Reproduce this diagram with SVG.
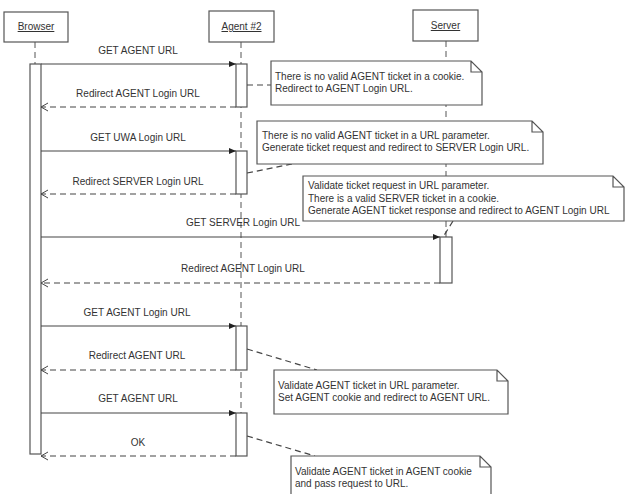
<svg xmlns="http://www.w3.org/2000/svg" width="631" height="494" viewBox="0 0 631 494">
<defs>
<style>
text{font-family:"Liberation Sans",Arial,sans-serif;font-size:10px;fill:#333}
.hd{text-decoration:underline;text-anchor:middle}
.lbl{text-anchor:middle}
.box{fill:#fff;stroke:#555;stroke-width:1.2}
.life{stroke:#555;stroke-width:1;stroke-dasharray:6,4;fill:none}
.msg{stroke:#444;stroke-width:1.2;fill:none}
.ret{stroke:#444;stroke-width:1.2;stroke-dasharray:6,4;fill:none}
.link{stroke:#444;stroke-width:1.2;stroke-dasharray:6,4;fill:none}
.note{fill:#fff;stroke:#555;stroke-width:1.2}
</style>
<marker id="fill" markerWidth="8" markerHeight="8" refX="7" refY="4" orient="auto" markerUnits="userSpaceOnUse">
<path d="M0,1 L7,4 L0,7 Z" fill="#222"/>
</marker>
<marker id="open" markerWidth="10" markerHeight="10" refX="7" refY="5" orient="auto" markerUnits="userSpaceOnUse">
<path d="M0,1 L7,5 L0,9" fill="none" stroke="#444" stroke-width="1"/>
</marker>
</defs>
<rect width="631" height="494" fill="#fff"/>

<g id="lifelines">
<line class="life" x1="35" y1="42" x2="35" y2="64"/>
<line class="life" x1="241" y1="42" x2="241" y2="456"/>
<line class="life" x1="446" y1="41" x2="446" y2="237"/>
</g>

<g id="browser">
<rect class="box" x="4" y="12" width="64" height="30"/>
<text class="hd" x="36" y="30">Browser</text>
<rect class="box" x="30" y="64" width="11" height="390"/>
</g>
<g id="agent">
<rect class="box" x="209" y="11" width="65" height="31"/>
<text class="hd" x="241.5" y="30">Agent #2</text>
<rect class="box" x="236" y="64" width="11" height="43"/>
<rect class="box" x="236" y="151" width="11" height="43"/>
<rect class="box" x="236" y="326" width="11" height="44"/>
<rect class="box" x="236" y="413" width="11" height="43"/>
</g>
<g id="server">
<rect class="box" x="413" y="10" width="65" height="31"/>
<text class="hd" x="445.5" y="29">Server</text>
<rect class="box" x="440" y="237" width="12" height="46"/>
</g>

<g id="connectors">
<line class="msg" x1="41" y1="64" x2="236" y2="64" marker-end="url(#fill)"/>
<line class="ret" x1="236" y1="107" x2="41" y2="107" marker-end="url(#open)"/>
<line class="msg" x1="41" y1="151" x2="236" y2="151" marker-end="url(#fill)"/>
<line class="ret" x1="236" y1="194" x2="41" y2="194" marker-end="url(#open)"/>
<line class="msg" x1="41" y1="237" x2="440" y2="237" marker-end="url(#fill)"/>
<line class="ret" x1="440" y1="283" x2="41" y2="283" marker-end="url(#open)"/>
<line class="msg" x1="41" y1="326" x2="236" y2="326" marker-end="url(#fill)"/>
<line class="ret" x1="236" y1="370" x2="41" y2="370" marker-end="url(#open)"/>
<line class="msg" x1="41" y1="413" x2="236" y2="413" marker-end="url(#fill)"/>
<line class="ret" x1="236" y1="456" x2="41" y2="456" marker-end="url(#open)"/>
<line class="link" x1="247" y1="85" x2="271" y2="85"/>
<line class="link" x1="247" y1="173" x2="292" y2="164"/>
<line class="link" x1="453" y1="221" x2="443" y2="237"/>
<line class="link" x1="247" y1="349" x2="317" y2="370"/>
<line class="link" x1="247" y1="436" x2="315" y2="456"/>
</g>

<g id="labels">
<text class="lbl" x="138" y="54">GET AGENT URL</text>
<text class="lbl" x="138" y="97">Redirect AGENT Login URL</text>
<text class="lbl" x="138" y="141">GET UWA Login URL</text>
<text class="lbl" x="138" y="185">Redirect SERVER Login URL</text>
<text class="lbl" x="243" y="226">GET SERVER Login URL</text>
<text class="lbl" x="243" y="272">Redirect AGENT Login URL</text>
<text class="lbl" x="137" y="316">GET AGENT Login URL</text>
<text class="lbl" x="137" y="359">Redirect AGENT URL</text>
<text class="lbl" x="138" y="402">GET AGENT URL</text>
<text class="lbl" x="138" y="446">OK</text>
</g>

<g id="note1">
<path class="note" d="M271,61 H471 L482,72 V105 H271 Z M471,61 V72 H482"/>
<text x="275" y="80">There is no valid AGENT ticket in a cookie.</text>
<text x="275" y="92">Redirect to AGENT Login URL.</text>
</g>
<g id="note2">
<path class="note" d="M257,121 H532 L543,132 V164 H257 Z M532,121 V132 H543"/>
<text x="262" y="139">There is no valid AGENT ticket in a URL parameter.</text>
<text x="262" y="151">Generate ticket request and redirect to SERVER Login URL.</text>
</g>
<g id="note3">
<path class="note" d="M303,176 H613 L624,187 V221 H303 Z M613,176 V187 H624"/>
<text x="308" y="189">Validate ticket request in URL parameter.</text>
<text x="308" y="202">There is a valid SERVER ticket in a cookie.</text>
<text x="308" y="214">Generate AGENT ticket response and redirect to AGENT Login URL</text>
</g>
<g id="note4">
<path class="note" d="M274,370 H497 L508,381 V414 H274 Z M497,370 V381 H508"/>
<text x="278" y="389">Validate AGENT ticket in URL parameter.</text>
<text x="278" y="401">Set AGENT cookie and redirect to AGENT URL.</text>
</g>
<g id="note5">
<path class="note" d="M291,456 H480 L491,467 V500 H291 Z M480,456 V467 H491"/>
<text x="295" y="475">Validate AGENT ticket in AGENT cookie</text>
<text x="295" y="487">and pass request to URL.</text>
</g>
</svg>
